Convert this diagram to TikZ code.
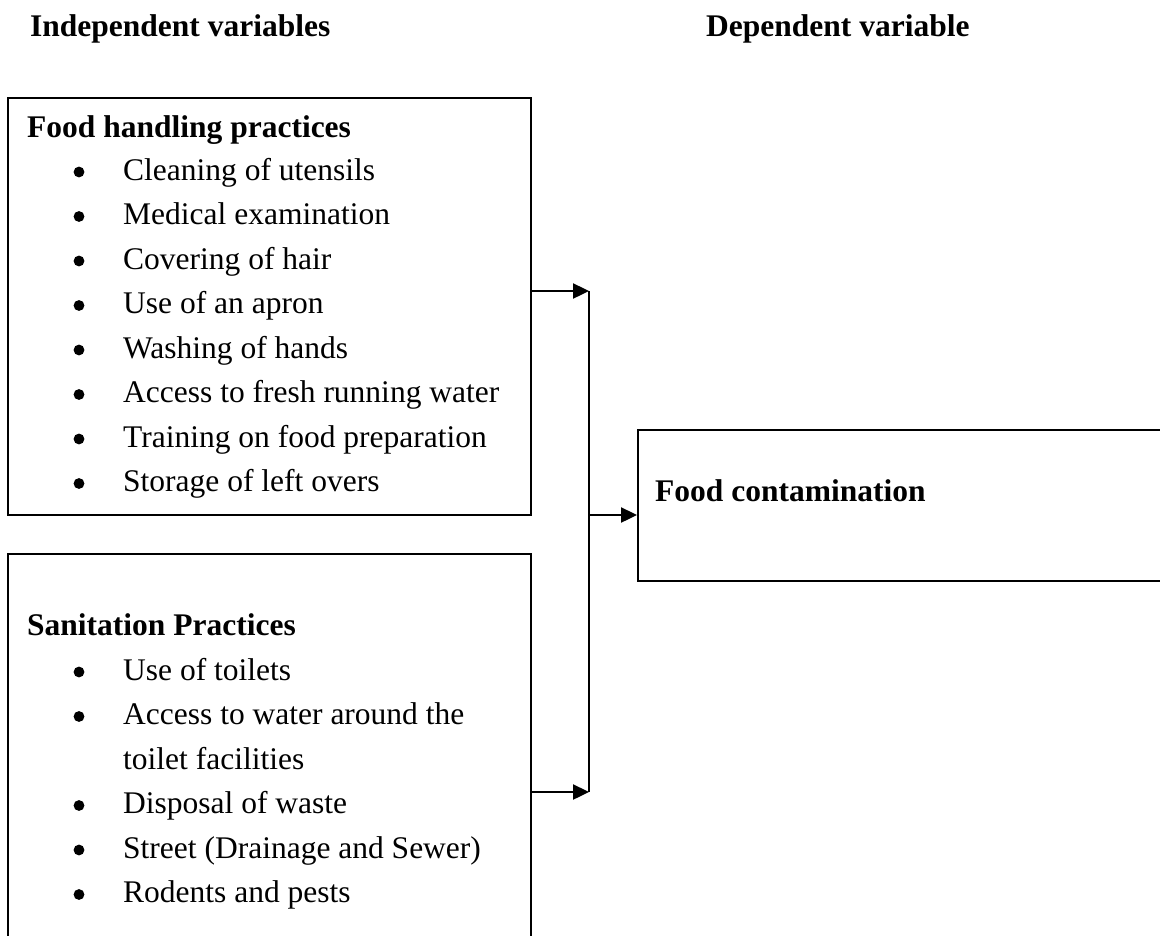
\documentclass[tikz,border=0pt]{standalone}
\usepackage{fontspec}
\setmainfont{Liberation Serif}
\usetikzlibrary{arrows.meta}
\begin{document}
\begin{tikzpicture}[x=1pt,y=-1pt,
  frame/.style={draw=black, line width=2pt, rectangle, anchor=north west, inner sep=0pt},
  txt/.style={anchor=base west, inner sep=0pt, font=\fontsize{31.5}{38}\selectfont},
  hd/.style={txt, font=\fontsize{31.5}{38}\selectfont\bfseries},
  conn/.style={line width=2.4pt},
  arr/.style={line width=2.4pt, -{Triangle[length=16pt,width=15pt]}}]
\useasboundingbox (0,0) rectangle (1160,935);
\fill[white] (0,0) rectangle (1160,935);
% titles
\node[hd] (tind) at (30,36) {Independent variables};
\node[hd] (tdep) at (706,36) {Dependent variable};
% boxes
\node[frame, minimum width=523pt, minimum height=417pt] (fhp) at (7,97) {};
\node[frame, minimum width=523pt, minimum height=420pt] (sp) at (7,553) {};
\node[frame, minimum width=540pt, minimum height=151pt] (fc) at (637,429) {};
% box 1 text
\node[hd] (h1) at (27,137) {Food handling practices};
\foreach \t [count=\i] in {Cleaning of utensils, Medical examination, Covering of hair, Use of an apron, Washing of hands, Access to fresh running water, Training on food preparation, Storage of left overs}{
  \pgfmathsetmacro{\yy}{180+44.5*(\i-1)}
  \fill (79,\yy-8) circle (5.4);
  \node[txt] (i\i) at (123,\yy) {\t};
}
% box 2 text
\node[hd] (h2) at (27,635) {Sanitation Practices};
\foreach \t/\yy in {Use of toilets/680, Access to water around the/724.5, Disposal of waste/813.5, Street (Drainage and Sewer)/858, Rodents and pests/902.5}{
  \fill (79,\yy-8) circle (5.4);
  \node[txt] at (123,\yy) {\t};
}
\node[txt] (cont) at (123,769) {toilet facilities};
% box 3 text
\node[hd] (h3) at (655,501) {Food contamination};
% connectors
\coordinate (j1) at (589,291);
\coordinate (j2) at (589,792);
\coordinate (j3) at (589,515);
\draw[conn] (j1) -- (j2);
\draw[arr] (j1 -| fhp.east) -- (j1);
\draw[arr] (j2 -| sp.east) -- (j2);
\draw[arr] (j3) -- (j3 -| fc.west);
\end{tikzpicture}
\end{document}
